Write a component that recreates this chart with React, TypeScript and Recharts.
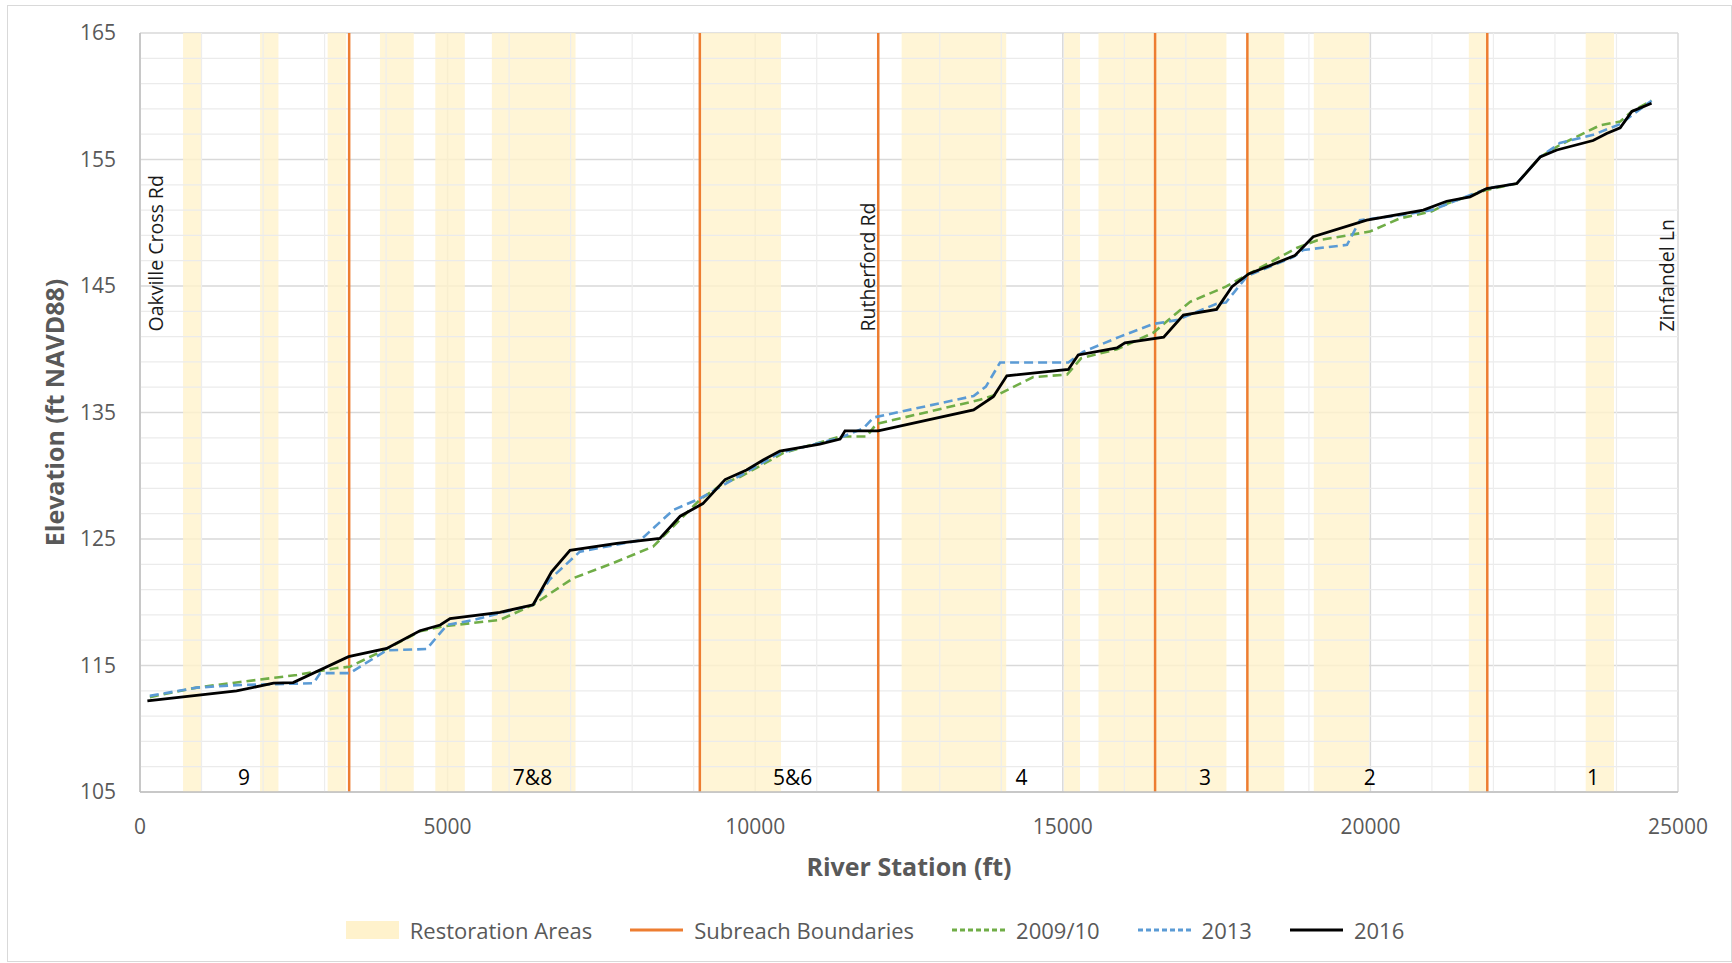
import React from "react";
import {
    LineChart,
    Line,
    XAxis,
    YAxis,
    CartesianGrid,
    ReferenceArea,
    ReferenceLine,
    ReferenceDot,
    Legend,
    Label,
} from "recharts";

const FONT = "'Open Sans', 'Noto Sans', sans-serif";
const GREY = "#595959";

// axis ticks
const xTicks = [0, 5000, 10000, 15000, 20000, 25000];
const yTicks = [105, 115, 125, 135, 145, 155, 165];
const xMinorTicks = [1000, 2000, 3000, 4000, 6000, 7000, 8000, 9000, 11000, 12000, 13000, 14000, 16000, 17000, 18000, 19000, 21000, 22000, 23000, 24000];
const yMinorTicks = [107, 109, 111, 113, 117, 119, 121, 123, 127, 129, 131, 133, 137, 139, 141, 143, 147, 149, 151, 153, 157, 159, 161, 163];

// restoration areas (river station ranges, ft)
const restorationStart = [700, 1950, 3050, 3900, 4800, 5720, 9120, 12380, 15020, 15580, 16500, 18010, 19080, 21600, 23500];
const restorationEnd = [1000, 2250, 3350, 4450, 5280, 7080, 10420, 14080, 15280, 16480, 17660, 18600, 19980, 21880, 23960];

// subreach boundaries and names
const subreachBoundaries = [3400, 9100, 12000, 16500, 18000, 21900];
const subreachNames = ["9", "7&8", "5&6", "4", "3", "2", "1"];
const subreachNameStations = [1690, 6380, 10610, 14330, 17310, 19990, 23620];

// road crossings
const roadNames = ["Oakville Cross Rd", "Rutherford Rd", "Zinfandel Ln"];
const roadStations = [430, 12000, 24990];

// 2009/10 profile
const station0910 = [160, 920, 1630, 2550, 3200, 3410, 4000, 4550, 4930, 5850, 6390, 7040, 7690, 8340, 8670, 9100, 9480, 9750, 10460, 11380, 11810, 11970, 13650, 13980, 14520, 15070, 15300, 15880, 16470, 17070, 17650, 18000, 18800, 19130, 19990, 20480, 21000, 21240, 21890, 22380, 22760, 23080, 23730, 24060, 24250, 24570];
const elev0910 = [112.5, 113.25, 113.7, 114.25, 114.8, 114.9, 116.3, 117.7, 118.1, 118.6, 119.8, 121.9, 123.1, 124.4, 126.0, 128.1, 129.4, 129.9, 131.8, 133.1, 133.1, 134.1, 136.0, 136.5, 137.8, 138.0, 139.3, 140.0, 141.3, 143.75, 144.95, 145.9, 148.0, 148.6, 149.3, 150.35, 150.9, 151.5, 152.6, 153.1, 155.2, 156.15, 157.7, 158.0, 158.8, 159.65];

// 2013 profile
const station2013 = [160, 920, 1570, 2820, 2930, 3410, 4010, 4660, 4990, 5420, 6390, 6660, 7150, 8130, 8670, 9100, 9750, 10400, 11380, 11760, 11920, 13550, 13750, 13980, 15090, 15330, 15930, 16470, 16850, 17500, 17650, 18000, 18750, 18910, 19620, 19830, 20480, 21000, 21890, 22380, 22760, 23080, 23620, 24060, 24570];
const elev2013 = [112.6, 113.25, 113.45, 113.6, 114.4, 114.4, 116.2, 116.3, 118.2, 118.6, 119.8, 121.8, 124.0, 124.9, 127.3, 128.2, 130.0, 131.8, 133.0, 133.75, 134.6, 136.3, 137.05, 138.95, 138.95, 139.8, 141.0, 142.0, 142.3, 143.6, 143.7, 145.8, 147.3, 147.85, 148.25, 150.2, 150.6, 151.0, 152.7, 153.1, 155.2, 156.3, 156.95, 157.8, 159.65];

// 2016 profile
const station2016 = [120, 1570, 2170, 2490, 3390, 4010, 4550, 4880, 5040, 5850, 6390, 6690, 6990, 7750, 8450, 8780, 9150, 9510, 9860, 10130, 10400, 11050, 11380, 11460, 12000, 13550, 13870, 14090, 15090, 15250, 15880, 16010, 16640, 16960, 17500, 17750, 18020, 18770, 19070, 19940, 20860, 21240, 21620, 21890, 22380, 22760, 23030, 23620, 23840, 24060, 24250, 24350, 24570];
const elev2016 = [112.2, 113.0, 113.6, 113.65, 115.7, 116.35, 117.75, 118.2, 118.7, 119.2, 119.8, 122.4, 124.1, 124.65, 125.05, 126.8, 127.8, 129.7, 130.45, 131.25, 131.95, 132.5, 132.9, 133.55, 133.55, 135.2, 136.25, 137.9, 138.4, 139.55, 140.1, 140.5, 140.95, 142.7, 143.15, 144.95, 145.95, 147.4, 148.9, 150.2, 151.0, 151.7, 152.05, 152.7, 153.1, 155.2, 155.75, 156.5, 157.05, 157.5, 158.8, 159.0, 159.45];

const zip = (xs: number[], ys: number[]) => xs.map((x, i) => ({ x, y: ys[i] }));

const legendItems = [
    { name: "Restoration Areas", kind: "area", color: "#FFF2CC" },
    { name: "Subreach Boundaries", kind: "line", color: "#ED7D31" },
    { name: "2009/10", kind: "dash", color: "#70AD47" },
    { name: "2013", kind: "dash", color: "#5B9BD5" },
    { name: "2016", kind: "line", color: "#000000" },
];

const renderLegend = () => (
    <div style={{ display: "flex", justifyContent: "center", alignItems: "center", gap: 38, paddingLeft: 18, fontFamily: FONT, fontSize: 22, color: GREY }}>
        {legendItems.map((item) => (
            <div key={item.name} style={{ display: "flex", alignItems: "center" }}>
                <svg width={53} height={20}>
                    {item.kind === "area" ? (
                        <rect x={0} y={1} width={53} height={18} fill={item.color} />
                    ) : (
                        <line
                            x1={0}
                            y1={10}
                            x2={53}
                            y2={10}
                            stroke={item.color}
                            strokeWidth={3}
                            strokeDasharray={item.kind === "dash" ? "5 3" : undefined}
                        />
                    )}
                </svg>
                <span style={{ marginLeft: 11 }}>{item.name}</span>
            </div>
        ))}
    </div>
);

const App: React.FC = () => {
    return (
        <div style={{ position: "absolute", left: 0, top: 0, width: 1732, height: 963, background: "#fff", fontFamily: FONT }}>
            <div style={{ position: "absolute", left: 7, top: 5, width: 1723, height: 955, border: "1px solid #D9D9D9", pointerEvents: "none" }} />
            <LineChart width={1732} height={963} margin={{ top: 33, right: 54, bottom: 21, left: 0 }}>
                <CartesianGrid stroke="#D9D9D9" strokeWidth={1.5} />
                <XAxis
                    type="number"
                    dataKey="x"
                    domain={[0, 25000]}
                    ticks={xTicks}
                    height={150}
                    tickLine={false}
                    tickSize={0}
                    tickMargin={27}
                    axisLine={{ stroke: "#BFBFBF", strokeWidth: 1.5 }}
                    tick={{ fontSize: 21, fill: GREY }}
                >
                    <Label value="River Station (ft)" position="center" style={{ fontSize: 25, fontWeight: 700, fill: GREY }} />
                </XAxis>
                <YAxis
                    type="number"
                    domain={[105, 165]}
                    ticks={yTicks}
                    width={140}
                    tickLine={false}
                    tickSize={0}
                    tickMargin={24}
                    axisLine={{ stroke: "#BFBFBF", strokeWidth: 1.5 }}
                    tick={{ fontSize: 21, fill: GREY }}
                >
                    <Label value="Elevation (ft NAVD88)" angle={-90} position="center" dx={-15} style={{ fontSize: 25, fontWeight: 700, fill: GREY }} />
                </YAxis>

                {yMinorTicks.map((v) => (
                    <ReferenceLine key={"ym" + v} y={v} stroke="#EBEBEB" strokeWidth={1.2} />
                ))}
                {xMinorTicks.map((v) => (
                    <ReferenceLine key={"xm" + v} x={v} stroke="#EDEDED" strokeWidth={1.2} />
                ))}

                {restorationStart.map((s, i) => (
                    <ReferenceArea key={"ra" + i} x1={s} x2={restorationEnd[i]} fill="#FFF2CC" fillOpacity={0.8} stroke="none" />
                ))}

                {subreachBoundaries.map((b) => (
                    <ReferenceLine key={"sb" + b} x={b} stroke="#ED7D31" strokeWidth={2.5} />
                ))}

                {subreachNames.map((name, i) => (
                    <ReferenceDot
                        key={"sn" + name}
                        x={subreachNameStations[i]}
                        y={106.2}
                        r={0}
                        shape={(p: any) => (
                            <text x={p.cx} y={p.cy} textAnchor="middle" dominantBaseline="central" fontSize={21} fill="#000">
                                {name}
                            </text>
                        )}
                    />
                ))}

                {roadNames.map((name, i) => (
                    <ReferenceDot
                        key={"rd" + name}
                        x={roadStations[i]}
                        y={141.4}
                        r={0}
                        shape={(p: any) => (
                            <text
                                x={p.cx - 3}
                                y={p.cy}
                                transform={`rotate(-90 ${p.cx - 3} ${p.cy})`}
                                textAnchor="start"
                                fontSize={19.5}
                                fill="#1A1A1A"
                            >
                                {name}
                            </text>
                        )}
                    />
                ))}

                <Line data={zip(station0910, elev0910)} dataKey="y" type="linear" stroke="#70AD47" strokeWidth={2.6} strokeDasharray="9 5" dot={false} isAnimationActive={false} />
                <Line data={zip(station2013, elev2013)} dataKey="y" type="linear" stroke="#5B9BD5" strokeWidth={2.6} strokeDasharray="9 5" dot={false} isAnimationActive={false} />
                <Line data={zip(station2016, elev2016)} dataKey="y" type="linear" stroke="#000000" strokeWidth={2.8} dot={false} isAnimationActive={false} />

                <Legend
                    layout="horizontal"
                    verticalAlign="middle"
                    align="center"
                    content={renderLegend}
                    wrapperStyle={{ top: 915, left: 0, width: 1732, height: 32 }}
                />
            </LineChart>
        </div>
    );
};

export default App;
